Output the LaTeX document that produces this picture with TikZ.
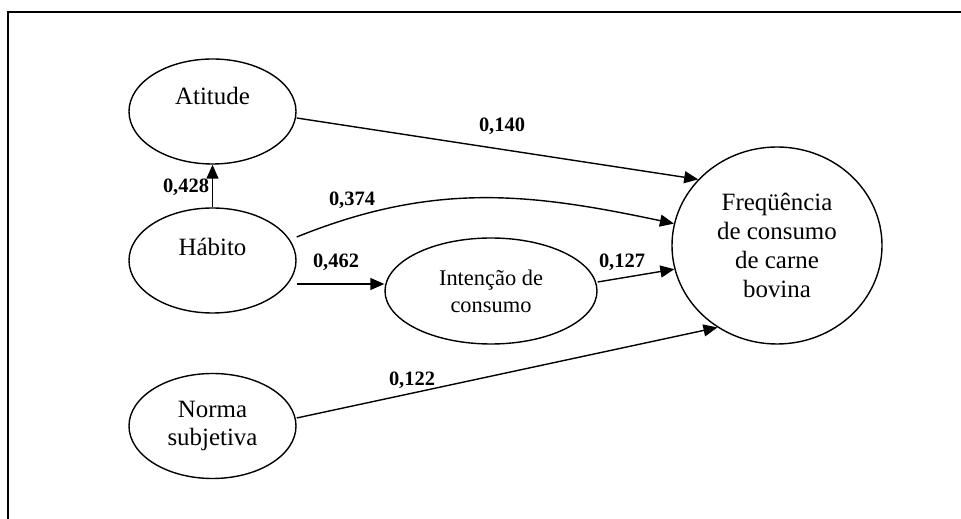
\documentclass[tikz,border=0pt]{standalone}
\usepackage{fontspec}
\setmainfont{Liberation Serif}
\usetikzlibrary{arrows.meta,shapes.geometric}

\begin{document}
\begin{tikzpicture}[>={Triangle[length=14bp,width=12bp]}, line width=1.4bp]
      \tikzstyle{every node}=[font=\fontsize{25}{29}\selectfont]
      \tikzstyle{var}=[ellipse,draw,inner sep=0pt,minimum width=167bp,minimum height=105bp,align=center]
      \tikzstyle{coef}=[font=\fontsize{20.5}{24}\selectfont\bfseries,inner sep=0pt]
      %%
  \useasboundingbox (0bp,0bp) rectangle (961bp,519bp);
  \draw [line width=2bp] (8bp,0bp) -- (8bp,507bp) -- (961bp,507bp);
  \node (v_at) at (212.5bp,407.5bp) [var,text height=16bp,text depth=29bp] {Atitude};
  \node (v_hab) at (212.5bp,258.5bp) [var,text height=16bp,text depth=25bp] {Hábito};
  \node (v_norma) at (212.5bp,93bp) [var] {Norma\\subjetiva};
  \node (v_int) at (491bp,228bp) [var,minimum width=212bp,minimum height=106bp,font=\fontsize{22.5}{27}\selectfont] {Intenção de\\consumo};
  \node (v_fr) at (777bp,273.5bp) [var,minimum width=210bp,minimum height=197bp] {Freqüência\\de consumo\\de carne\\bovina};
  \node (c_at) at (186bp,332bp) [coef] {0,428};
  \node (c_fr1) at (502bp,393bp) [coef] {0,140};
  \node (c_fr2) at (352bp,319bp) [coef] {0,374};
  \node (c_int) at (336bp,257bp) [coef] {0,462};
  \node (c_fr3) at (622bp,257bp) [coef] {0,127};
  \node (c_fr4) at (412bp,139bp) [coef] {0,122};
  \draw [->] (v_hab.north) -- (v_at.south);
  \draw [->] ([yshift=-6.5bp]v_at.east) -- (v_fr.140);
  \draw [->] ([yshift=23.5bp]v_hab.east) to[out=22,in=168] (v_fr.168);
  \draw [->] ([yshift=-23.5bp]v_hab.east) -- ([yshift=-23.5bp]v_hab.east -| v_int.west);
  \draw [->] ([yshift=9bp]v_int.east) -- (v_fr.193);
  \draw [->] ([yshift=8bp]v_norma.east) -- (v_fr.234);
%

    \end{tikzpicture}
\end{document}
